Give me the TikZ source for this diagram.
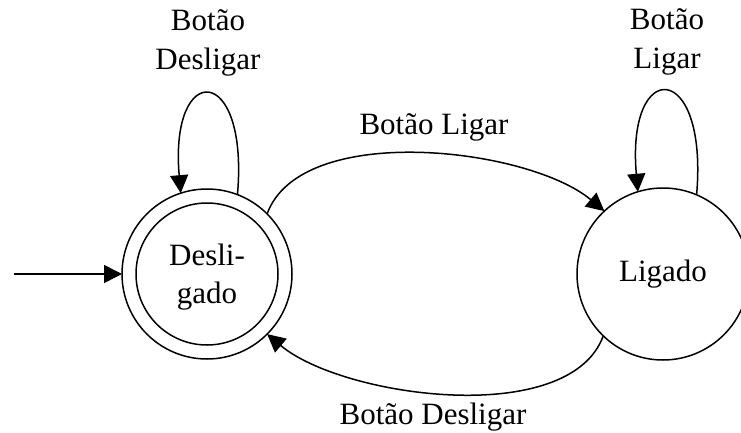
\documentclass[tikz,border=0pt]{standalone}
\usepackage{fontspec}
\setmainfont{Liberation Serif}
\usetikzlibrary{arrows.meta,positioning}
\tikzset{
  stnode/.style={circle,draw,line width=1.5pt,minimum size=#1,inner sep=0pt,outer sep=0pt},
  trans/.style={line width=1.5pt,-{Triangle[length=18pt,width=18pt]}},
  lbl/.style={align=center}
}
\begin{document}
\begin{tikzpicture}[x=1pt,y=1pt,line join=round,font=\fontsize{31}{38.5}\selectfont]
\useasboundingbox (0,0) rectangle (741,432);
% states
\node[stnode=170pt] (off) at (207,158) {};
\node[stnode=142pt,align=center,text depth=0pt] (offin) at (off) {};
\node[align=center] (offtxt) at (207,155) {Desli-\\gado};
\node[stnode=172pt] (on) at (663,158) {Ligado};
\coordinate (start) at (14,158);
% transitions
\draw[trans] (start)--(off);
\draw[trans] (off.45) to[out=70,in=140,looseness=0.75] (on.133);
\draw[trans] (on.-134) to[out=-110,in=-40,looseness=0.75] (off.-45);
\draw[trans] (off.69) to[out=85,in=95,looseness=6] (off.108);
\draw[trans] (on.67) to[out=85,in=95,looseness=5.9] (on.107);
% labels
\node[lbl] (offlb) at (208,389) {Botão\\Desligar};
\node[lbl] (onlb) at (667,390) {Botão\\Ligar};
\node (uplb) at (434,305) {Botão Ligar};
\node (dnlb) at (433,15) {Botão Desligar};
\end{tikzpicture}
\end{document}
